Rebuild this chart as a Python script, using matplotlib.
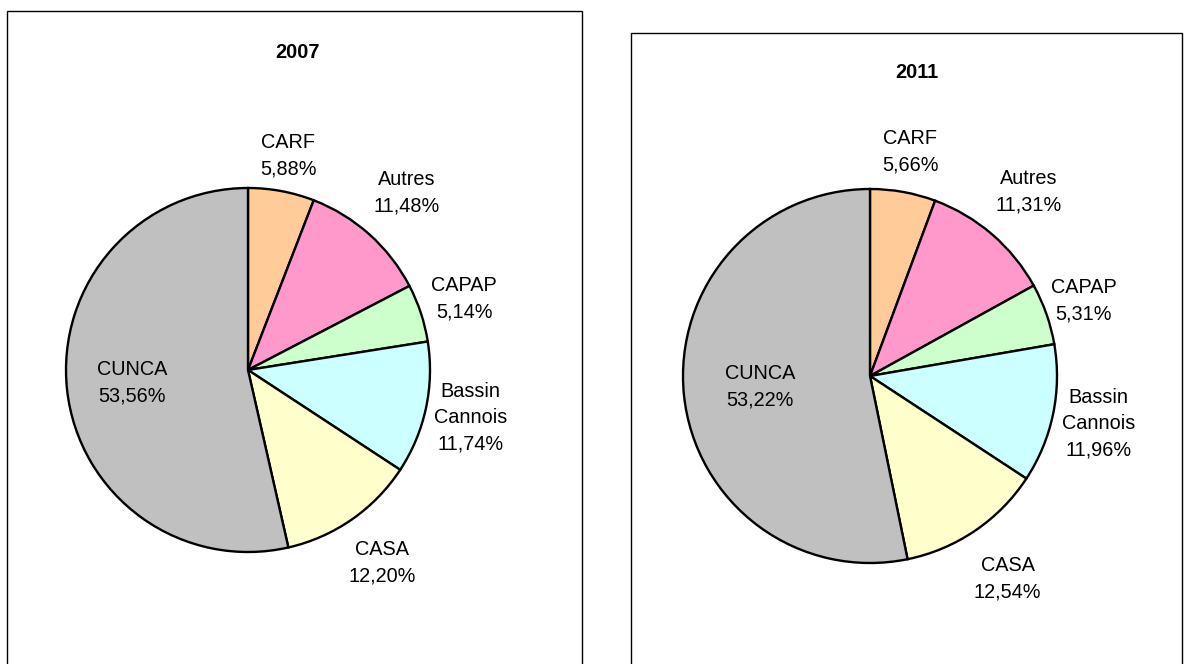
import matplotlib
matplotlib.use("Agg")
import matplotlib.pyplot as plt
from matplotlib.patches import Rectangle
import numpy as np

plt.rcParams['font.family'] = ['Liberation Sans', 'DejaVu Sans']

categories = ["CARF", "Autres", "CAPAP", "Bassin\nCannois", "CASA", "CUNCA"]
values_2007 = [5.88, 11.48, 5.14, 11.74, 12.20, 53.56]
values_2011 = [5.66, 11.31, 5.31, 11.96, 12.54, 53.22]
titles = ["2007", "2011"]
colors = ["#FFCC99", "#FF99CC", "#CCFFCC", "#CCFFFF", "#FFFFCC", "#C0C0C0"]

W, H = 1184, 664
fig = plt.figure(figsize=(W / 100, H / 100), dpi=100)
ax = fig.add_axes([0, 0, 1, 1])

# layout in pixel space (y measured from top)
panels = [dict(box=(7, 11, 582, 690), center=(248, 370), r=182, title=(297, 52),
               dist=[1.20, 1.31, 1.25, 1.25, 1.29, 0.64]),
          dict(box=(631, 33, 1182, 690), center=(870, 376), r=187, title=(917, 73),
               dist=[1.22, 1.30, 1.21, 1.25, 1.31, 0.59])]

def fmt(v):
    return f"{v:.2f}".replace('.', ',') + '%'

for vals, title, p in zip([values_2007, values_2011], titles, panels):
    x0, y0, x1, y1 = p['box']
    ax.add_patch(Rectangle((x0, H - y1), x1 - x0, y1 - y0, facecolor='white',
                           edgecolor='black', linewidth=1.0, zorder=0))
    cx, cy = p['center'][0], H - p['center'][1]
    r = p['r']
    wedges, _ = ax.pie(vals, colors=colors, startangle=90, counterclock=False,
                       center=(cx, cy), radius=r, frame=True,
                       wedgeprops=dict(edgecolor='black', linewidth=1.7))
    for w, lab, v, d in zip(wedges, categories, vals, p['dist']):
        ang = np.deg2rad((w.theta1 + w.theta2) / 2)
        ax.text(cx + d * r * np.cos(ang), cy + d * r * np.sin(ang),
                f"{lab}\n{fmt(v)}", ha='center', va='center', ma='center',
                fontsize=14.3, linespacing=1.5, color='black')
    ax.text(p['title'][0], H - p['title'][1], title, ha='center', va='center',
            fontsize=14.3, fontweight='bold')

ax.set_xlim(0, W)
ax.set_ylim(0, H)
ax.set_aspect('auto')
ax.axis('off')
fig.savefig("out.png", dpi=100)
